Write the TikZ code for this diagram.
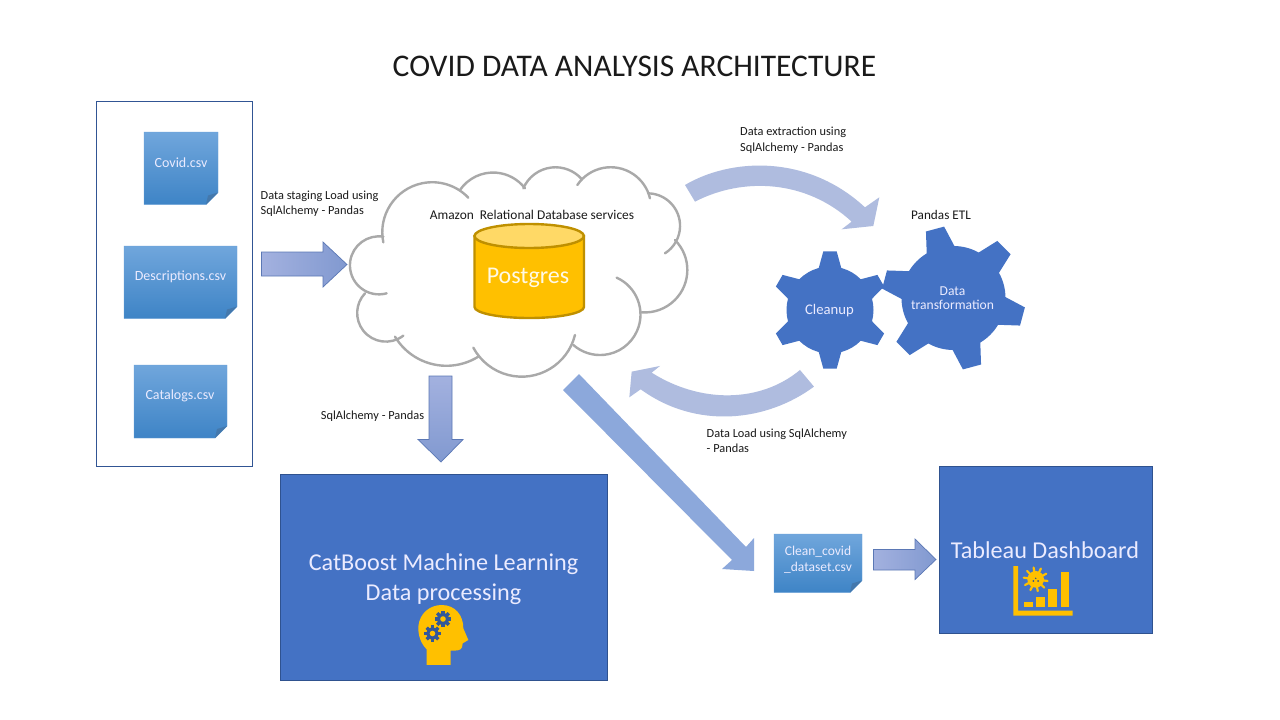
\documentclass[tikz,border=0pt]{standalone}
\usepackage{fontspec}
\setmainfont{Carlito}
\usetikzlibrary{shadings}
\definecolor{boxblue}{HTML}{4472C4}
\definecolor{boxedge}{HTML}{2F528F}
\definecolor{curvearrow}{HTML}{AFBCDF}
\definecolor{diagarrow}{HTML}{8CA8DB}
\definecolor{gold}{HTML}{FFC000}
\definecolor{goldlight}{HTML}{FFD966}
\definecolor{goldedge}{HTML}{BF9000}
\definecolor{cloudedge}{HTML}{A9A9A9}
\definecolor{ink}{HTML}{1A1A1A}
\definecolor{noteblue}{HTML}{3E84C6}
\definecolor{notetop}{HTML}{70A6DC}
\definecolor{notefold}{HTML}{4478AC}
\definecolor{arrowtop}{HTML}{A3B1DF}
\definecolor{arrowbot}{HTML}{8199D0}
\definecolor{arrowedge}{HTML}{5B78B5}
\tikzset{
  x=1pt,y=-1pt,
  caption/.style={inner sep=0pt,align=left,text=ink,font=\fontsize{12.35}{15.3}\selectfont},
  onblue/.style={inner sep=0pt,align=center,text=white},
  csvlabel/.style={onblue,font=\fontsize{14}{16}\selectfont,text=white!92!blue},
  bluebox/.style={fill=boxblue,draw=boxedge,line width=0.9pt},
  notefill/.style={top color=notetop,bottom color=noteblue,draw=notetop!85!noteblue,line width=0.4pt},
  blockarrow/.style={top color=arrowtop,bottom color=arrowbot,draw=arrowedge,line width=0.7pt},
  blockarrowh/.style={left color=arrowtop,right color=arrowbot,draw=arrowedge,line width=0.7pt},
  lobe/.style={draw=cloudedge,line width=2.4pt,line cap=round},
}
\newcommand{\notesheet}[5]{% x0 y0 x1 y1 name
  \path[notefill] (#1,#2) -- (#3,#2) -- (#3,#4-12) -- (#3-12,#4) -- (#1,#4) -- cycle;
  \fill[notefold] (#3,#4-12) -- (#3-10,#4-9) -- (#3-12,#4) -- cycle;
  \coordinate (#5) at ({(#1+#3)/2},{(#2+#4)/2});
}
\newcommand{\gearshape}[7]{% cx cy body tip base-half tip-half first-tooth
  \begin{scope}[shift={(#1,#2)},x=1pt,y=1pt]
  \fill[boxblue] ({#7-#5}:#3)
   \foreach \a in {0,60,...,300}{
     -- ({#7+\a-#5}:#3) -- ({#7+\a-#6}:#4) -- ({#7+\a+#6}:#4) -- ({#7+\a+#5}:#3)
     arc[start angle={#7+\a+#5},end angle={#7+\a+60-#5},radius=#3]
   } -- cycle;
  \end{scope}
}
\newcommand{\tinygear}[2]{% cx cy
  \begin{scope}[shift={(#1,#2)},x=1pt,y=1pt]
  \fill[boxedge!80!boxblue] (0,0) circle (6);
  \foreach \a in {0,45,...,315}{\fill[boxedge!80!boxblue,rotate=\a] (-1.7,5) rectangle (1.7,8.2);}
  \fill[gold] (0,0) circle (2.8);
  \end{scope}
}
% circular arc through three points given in crop units (3 units = 1 pixel)
\newcommand{\lobearc}[6]{%
  \pgfmathsetmacro\ax{#1/100}\pgfmathsetmacro\ay{#2/100}%
  \pgfmathsetmacro\bx{#3/100}\pgfmathsetmacro\by{#4/100}%
  \pgfmathsetmacro\cx{#5/100}\pgfmathsetmacro\cy{#6/100}%
  \pgfmathsetmacro\dd{2*(\ax*(\by-\cy)+\bx*(\cy-\ay)+\cx*(\ay-\by))}%
  \pgfmathsetmacro\ux{((\ax*\ax+\ay*\ay)*(\by-\cy)+(\bx*\bx+\by*\by)*(\cy-\ay)+(\cx*\cx+\cy*\cy)*(\ay-\by))/\dd}%
  \pgfmathsetmacro\uy{((\ax*\ax+\ay*\ay)*(\cx-\bx)+(\bx*\bx+\by*\by)*(\ax-\cx)+(\cx*\cx+\cy*\cy)*(\bx-\ax))/\dd}%
  \pgfmathsetmacro\rr{100*sqrt((\ax-\ux)*(\ax-\ux)+(\ay-\uy)*(\ay-\uy))}%
  \pgfmathsetmacro\sa{atan2(\ay-\uy,\ax-\ux)}%
  \pgfmathsetmacro\sb{atan2(\by-\uy,\bx-\ux)}%
  \pgfmathsetmacro\sc{atan2(\cy-\uy,\cx-\ux)}%
  \pgfmathsetmacro\db{mod(\sb-\sa+720,360)}%
  \pgfmathsetmacro\dc{mod(\sc-\sa+720,360)}%
  \pgfmathsetmacro\sweep{\db<\dc ? \dc : \dc-360}%
  \draw[lobe] (#1,#2) arc[start angle=\sa,delta angle=\sweep,radius=\rr];%
}
\begin{document}
\begin{tikzpicture}
\useasboundingbox (0,0) rectangle (1280,720);
\fill[white] (0,0) rectangle (1280,720);

\node[inner sep=0pt,text=ink,font=\fontsize{31.5}{38}\selectfont] (title) at (634.5,66) {COVID DATA ANALYSIS ARCHITECTURE};

% sources panel
\draw[draw=boxedge!90!boxblue,line width=0.8pt] (96.5,101.5) rectangle (252.5,466.5);
\notesheet{144}{132}{218}{204.5}{ncovid}
\node[csvlabel] (covid) at (181,162.5) {Covid.csv};
\notesheet{124}{246}{237}{318.5}{ndesc}
\node[csvlabel] (desc) at (180.5,277) {Descriptions.csv};
\notesheet{134}{365}{227}{438}{ncat}
\node[csvlabel] (cat) at (180,396) {Catalogs.csv};

% staging arrow
\path[blockarrowh] (261.5,252) -- (323,252) -- (323,242) -- (347,264.5) -- (323,287) -- (323,276) -- (261.5,276) -- cycle;
\node[caption,anchor=north west] (staging) at (260.5,190.5) {Data staging Load using\\SqlAlchemy - Pandas};

% cloud
\begin{scope}[shift={(340,155)},x=0.3333pt,y=-0.3333pt]
\lobearc{130}{262}{185}{113}{385}{128}
\lobearc{360}{105}{450}{53}{555}{100}
\lobearc{550}{100}{640}{37}{725}{72}
\lobearc{712}{90}{820}{37}{930}{130}
\lobearc{925}{115}{1020}{205}{975}{295}
\lobearc{1005}{255}{1042}{340}{905}{472}
\lobearc{830}{368}{885}{540}{700}{570}
\lobearc{705}{540}{550}{665}{400}{578}
\lobearc{415}{605}{290}{630}{165}{545}
\lobearc{190}{542}{52}{465}{75}{415}
\lobearc{130}{245}{30}{325}{140}{415}
\end{scope}
\node[caption,font=\fontsize{13.4}{16}\selectfont,anchor=center] (rds) at (532,214.5) {Amazon\ \ Relational Database services};

% database
\path[draw=goldedge,fill=gold,line width=2.4pt] (474.5,236) -- (474.5,307) arc[start angle=180,end angle=0,x radius=54.75,y radius=11] -- (584,236) -- cycle;
\path[draw=goldedge,fill=goldlight,line width=2.4pt] (529.2,236) ellipse[x radius=54.7,y radius=12];
\node[onblue,font=\fontsize{24}{28}\selectfont,text=white!90!gold] (pg) at (528,278) {Postgres};

% curved arrows
\begin{scope}[shift={(620,120)},x=0.3333pt,y=-0.3333pt]
\fill[curvearrow] (195,195) .. controls (330,115) and (560,100) .. (735,262) -- (778,232) -- (760,318) -- (665,328) -- (695,305) .. controls (560,180) and (370,170) .. (225,245) -- cycle;
\fill[curvearrow] (582,800) .. controls (440,905) and (230,930) .. (62,808) -- (28,832) -- (35,755) -- (120,738) -- (95,758) .. controls (240,850) and (420,850) .. (540,750) -- cycle;
\end{scope}
\node[caption,anchor=north west] (extract) at (740,127) {Data extraction using\\SqlAlchemy - Pandas};
\node[caption,anchor=north west] (dataload) at (706.5,428.5) {Data Load using SqlAlchemy\\- Pandas};
\node[caption,font=\fontsize{13.2}{16}\selectfont,anchor=center] (etl) at (941,214.5) {Pandas ETL};

% gears
\gearshape{830}{310}{43.5}{59}{15}{6.5}{30}
\gearshape{953.5}{298}{52}{72}{16}{7.5}{45}
\node[onblue,font=\fontsize{14.7}{18}\selectfont,text=white!92!blue] (cleanup) at (829.5,310.5) {Cleanup};
\node[onblue,font=\fontsize{13.6}{14}\selectfont,text=white!92!blue] (transform) at (952.5,298.5) {Data\\transformation};

% down arrow
\path[blockarrow] (429,376) -- (452,376) -- (452,439.5) -- (463,439.5) -- (441,462) -- (418,439.5) -- (429,439.5) -- cycle;
\node[caption,anchor=center] (sql) at (372.5,416) {SqlAlchemy - Pandas};

% diagonal arrow
\fill[diagarrow] (579,374) -- (746,547) -- (754,538) -- (754,571) -- (722,569) -- (732,560) -- (563,390) -- cycle;

% ML box
\path[bluebox] (280.5,474.5) rectangle (607.5,680.5);
\node[onblue,font=\fontsize{24.2}{29.5}\selectfont,text=white!92!blue] (ml) at (443.5,579) {CatBoost Machine Learning\\Data processing};
\begin{scope}[shift={(400,590)},x=0.3333pt,y=-0.3333pt]
\fill[gold] (80,225) -- (80,178) .. controls (62,160) and (54,135) .. (55,110) .. controls (58,70) and (90,45) .. (125,45) .. controls (165,45) and (190,75) .. (190,115) -- (205,150) -- (188,160) -- (186,172) .. controls (182,182) and (170,182) .. (152,182) -- (152,225) -- cycle;
\end{scope}
\tinygear{443}{619}
\tinygear{432.5}{633.5}

% clean file, arrow, dashboard
\notesheet{774}{534}{862}{592.5}{nclean}
\node[csvlabel,font=\fontsize{13.5}{16}\selectfont] (clean) at (818,560) {Clean\_covid\\\_dataset.csv};
\path[blockarrowh] (873.5,549.5) -- (915,549.5) -- (915,539) -- (936,559.5) -- (915,579.5) -- (915,570) -- (873.5,570) -- cycle;
\path[bluebox] (939.5,466.5) rectangle (1152.5,633.5);
\node[onblue,font=\fontsize{24.2}{29}\selectfont,text=white!92!blue] (tableau) at (1045,550.5) {Tableau Dashboard};

% chart icon
\begin{scope}[shift={(1000,555)},x=0.3333pt,y=-0.3333pt]
\fill[gold] (40,33) -- (54,33) -- (54,167) -- (218,167) -- (218,182) -- (40,182) -- cycle;
\fill[gold] (72,140) rectangle (98,156);
\fill[gold] (108,125) rectangle (134,156);
\fill[gold] (145,101) rectangle (171,156);
\fill[gold] (182,52) rectangle (208,156);
\fill[gold] (107,73) circle (25);
\foreach \a in {0,36,...,324}{
  \draw[gold,line width=2.2pt,line cap=round] (107,73) -- ++(\a+8:36);
}
\fill[boxedge] (100,78) circle (3) (114,78) circle (3) (107,70) circle (2.5);
\end{scope}
\end{tikzpicture}
\end{document}
